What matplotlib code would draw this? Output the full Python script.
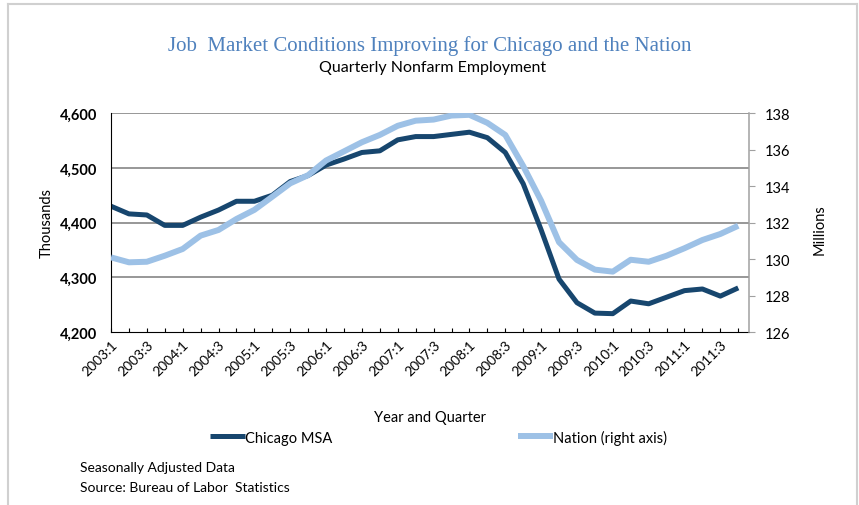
import matplotlib.pyplot as plt
import numpy as np

# quarterly nonfarm employment, 2003:1 - 2011:4
quarters = [f"{y}:{q}" for y in range(2003, 2012) for q in range(1, 5)]

chicago = [4430, 4416, 4414, 4395, 4395, 4410, 4423, 4439, 4439, 4450,
           4475, 4486, 4505, 4516, 4528, 4531, 4551, 4557, 4557, 4561,
           4565, 4555, 4528, 4471, 4387, 4297, 4254, 4235, 4234, 4257,
           4252, 4264, 4276, 4279, 4266, 4281]

nation = [130.1, 129.83, 129.86, 130.19, 130.56, 131.29, 131.6, 132.2, 132.7, 133.42,
          134.15, 134.6, 135.4, 135.9, 136.4, 136.8, 137.3, 137.58, 137.64, 137.86,
          137.9, 137.46, 136.8, 135.1, 133.2, 130.93, 129.96, 129.43, 129.32, 129.97,
          129.86, 130.19, 130.6, 131.05, 131.38, 131.83]

left_ticks = [4200, 4300, 4400, 4500, 4600]
right_ticks = [126, 128, 130, 132, 134, 136, 138]

dark = '#17466E'
light = '#9DC1E6'
grid_col = '#7A7A7A'

plt.rcParams['font.family'] = ['Lato', 'DejaVu Sans']

fig = plt.figure(figsize=(8.59, 5.06), dpi=100)
ax = fig.add_axes([111 / 859, 1 - 333.3 / 506, 638 / 859, 219.3 / 506])
x = np.arange(len(quarters))

l1, = ax.plot(x, chicago, color=dark, lw=3.6, solid_capstyle='butt', label='Chicago MSA')
ax.set_ylim(4200, 4600)
ax.set_xlim(0, 35.6)
ax.set_yticks(left_ticks)
ax.set_yticklabels([f"{v:,}" for v in left_ticks], fontweight='bold', fontsize=10.5)
ax.tick_params(axis='y', length=0, pad=10)
for v in left_ticks[1:]:
    ax.axhline(v, color=grid_col, lw=1.1, zorder=0)

ax.set_xticks(x)
ax.set_xticklabels([q if i % 2 == 0 else '' for i, q in enumerate(quarters)],
                   rotation=45, ha='right', rotation_mode='anchor', fontsize=10)
ax.tick_params(axis='x', direction='in', length=3, pad=4, color='black')

ax.spines['top'].set_visible(False)
ax.spines['right'].set_visible(False)
ax.spines['left'].set_color('black')
ax.spines['bottom'].set_color('black')

ax2 = ax.twinx()
l2, = ax2.plot(x, nation, color=light, lw=4.3, solid_capstyle='butt', label='Nation (right axis)')
ax2.set_ylim(126, 138)
ax2.set_yticks(right_ticks)
ax2.set_yticklabels([str(v) for v in right_ticks], fontsize=10.5)
ax2.tick_params(axis='y', direction='out', length=4, color='#A0A0A0', pad=7)
for s in ['top', 'left', 'bottom']:
    ax2.spines[s].set_visible(False)
ax2.spines['right'].set_color('#A0A0A0')
ax2.spines['right'].set_linewidth(1.1)

fig.text(0.5, 1 - 46 / 506, 'Job  Market Conditions Improving for Chicago and the Nation',
         ha='center', va='center', fontsize=15, color='#4F81BD',
         family=['Liberation Serif', 'DejaVu Serif'])
fig.text(433 / 859, 1 - 68 / 506, 'Quarterly Nonfarm Employment', ha='center', va='center', fontsize=11.5)

fig.text(47 / 859, 1 - 223 / 506, 'Thousands', rotation=90, ha='center', va='center', fontsize=10.5)
fig.text(820 / 859, 1 - 230 / 506, 'Millions', rotation=90, ha='center', va='center', fontsize=10.5)
fig.text(430 / 859, 1 - 418 / 506, 'Year and Quarter', ha='center', va='center', fontsize=10.5)

fig.legend(handles=[l1, l2], loc='center left', bbox_to_anchor=(197 / 859, 1 - 438 / 506),
           ncol=2, frameon=False, fontsize=10.5, handlelength=2.4, handletextpad=0.0,
           columnspacing=12.7)

fig.text(80 / 859, 1 - 468 / 506, 'Seasonally Adjusted Data', ha='left', va='center', fontsize=10)
fig.text(80 / 859, 1 - 488 / 506, 'Source: Bureau of Labor  Statistics', ha='left', va='center', fontsize=10)

# grey frame around chart
frame = dict(color='#D0D0D0', lw=1.5, transform=fig.transFigure)
fig.add_artist(plt.Line2D([8 / 859, 8 / 859], [0, 1 - 5 / 506], **frame))
fig.add_artist(plt.Line2D([857 / 859, 857 / 859], [0, 1 - 5 / 506], **frame))
fig.add_artist(plt.Line2D([8 / 859, 857 / 859], [1 - 5 / 506, 1 - 5 / 506], **frame))

fig.savefig('out.png', dpi=100, facecolor='white')
